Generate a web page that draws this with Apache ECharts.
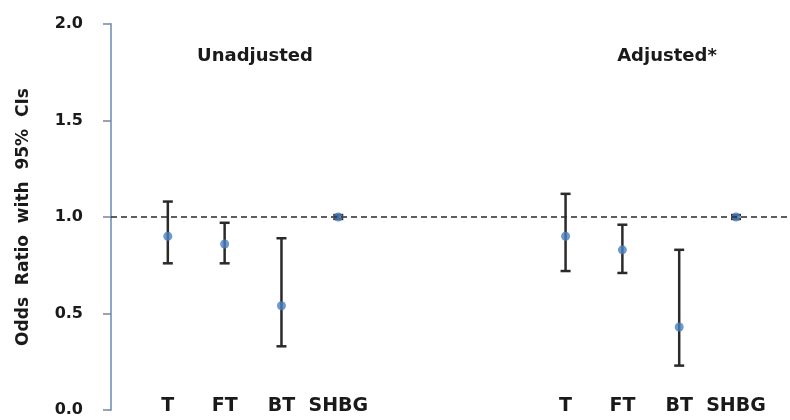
<!DOCTYPE html>
<html>
<head>
<meta charset="utf-8">
<script src="https://cdn.jsdelivr.net/npm/echarts@6/dist/echarts.min.js"></script>
<style>
html,body{margin:0;padding:0;background:#fff;}
#chart{width:790px;height:420px;}
</style>
</head>
<body>
<div id="chart"></div>
<script>
// ---- data ----
const categories = ['T', 'FT', 'BT', 'SHBG'];
const groupTitles = ['Unadjusted', 'Adjusted*'];
const unadjOR    = [0.90, 0.86, 0.54, 1.00];
const unadjLower = [0.76, 0.76, 0.33, 0.99];
const unadjUpper = [1.08, 0.97, 0.89, 1.01];
const adjOR      = [0.90, 0.83, 0.43, 1.00];
const adjLower   = [0.72, 0.71, 0.23, 0.99];
const adjUpper   = [1.12, 0.96, 0.83, 1.01];
const yTickLabels = ['0.0', '0.5', '1.0', '1.5', '2.0'];
const referenceOR = 1.0;

// ---- build ----
const groupOffset = 7; // slot index where the second panel starts
const slotLabels = {};
categories.forEach((c, i) => { slotLabels[i] = c; slotLabels[i + groupOffset] = c; });

const pointData = [];
const ciData = [];
categories.forEach((c, i) => {
  pointData.push([i, unadjOR[i]]);
  ciData.push([i, unadjLower[i], unadjUpper[i]]);
});
categories.forEach((c, i) => {
  pointData.push([i + groupOffset, adjOR[i]]);
  ciData.push([i + groupOffset, adjLower[i], adjUpper[i]]);
});

const FONT = 'DejaVu Sans';
const TXT = '#1a1a1a';

const chart = echarts.init(document.getElementById('chart'), null, {renderer: 'canvas'});
chart.setOption({
  animation: false,
  backgroundColor: '#ffffff',
  title: [
    {text: groupTitles[0], left: 250, top: 42, textAlign: 'center',
     textStyle: {fontFamily: FONT, fontWeight: 'bold', fontSize: 18, color: TXT}},
    {text: groupTitles[1], left: 662, top: 42, textAlign: 'center',
     textStyle: {fontFamily: FONT, fontWeight: 'bold', fontSize: 18, color: TXT}}
  ],
  grid: {left: 111, right: 0, top: 24, bottom: 10, containLabel: false},
  xAxis: {
    type: 'value', min: -1, max: 10.95, interval: 1,
    axisLine: {show: false}, axisTick: {show: false}, splitLine: {show: false},
    axisLabel: {
      show: true, margin: -4, verticalAlign: 'middle', showMaxLabel: false,
      fontFamily: FONT, fontWeight: 'bold', fontSize: 19, color: TXT,
      formatter: v => slotLabels[v] || ''
    }
  },
  yAxis: {
    type: 'value', min: 0, max: 2, interval: 0.5,
    name: 'Odds  Ratio  with  95%  CIs', nameLocation: 'middle', nameGap: 79,
    nameTextStyle: {fontFamily: FONT, fontWeight: 'bold', fontSize: 17, color: TXT},
    axisLine: {show: true, onZero: false, lineStyle: {color: '#8fa7c6', width: 2}},
    axisTick: {show: true, length: 8, lineStyle: {color: '#75879f', width: 1.5}},
    splitLine: {show: false},
    axisLabel: {
      margin: 28, fontFamily: FONT, fontWeight: 'bold', fontSize: 16, color: TXT,
      formatter: v => yTickLabels[Math.round(v / 0.5)]
    }
  },
  series: [
    {
      type: 'custom',
      data: ciData,
      z: 2,
      renderItem: function (params, api) {
        const x = api.value(0);
        const lo = api.coord([x, api.value(1)]);
        const hi = api.coord([x, api.value(2)]);
        const hw = 5;
        const style = {stroke: '#2a2a2a', lineWidth: 2.5};
        return {
          type: 'group',
          children: [
            {type: 'line', shape: {x1: lo[0], y1: lo[1], x2: hi[0], y2: hi[1]}, style: style},
            {type: 'line', shape: {x1: lo[0] - hw, y1: lo[1], x2: lo[0] + hw, y2: lo[1]}, style: style},
            {type: 'line', shape: {x1: hi[0] - hw, y1: hi[1], x2: hi[0] + hw, y2: hi[1]}, style: style}
          ]
        };
      },
      markLine: {
        silent: true, symbol: 'none', label: {show: false},
        lineStyle: {type: [6, 4], color: '#2a2a2a', width: 1.6},
        data: [{yAxis: referenceOR}]
      }
    },
    {
      type: 'scatter',
      data: pointData,
      z: 3,
      symbol: 'circle',
      symbolSize: 9,
      itemStyle: {color: '#4a7fc1'}
    }
  ]
});
</script>
</body>
</html>
